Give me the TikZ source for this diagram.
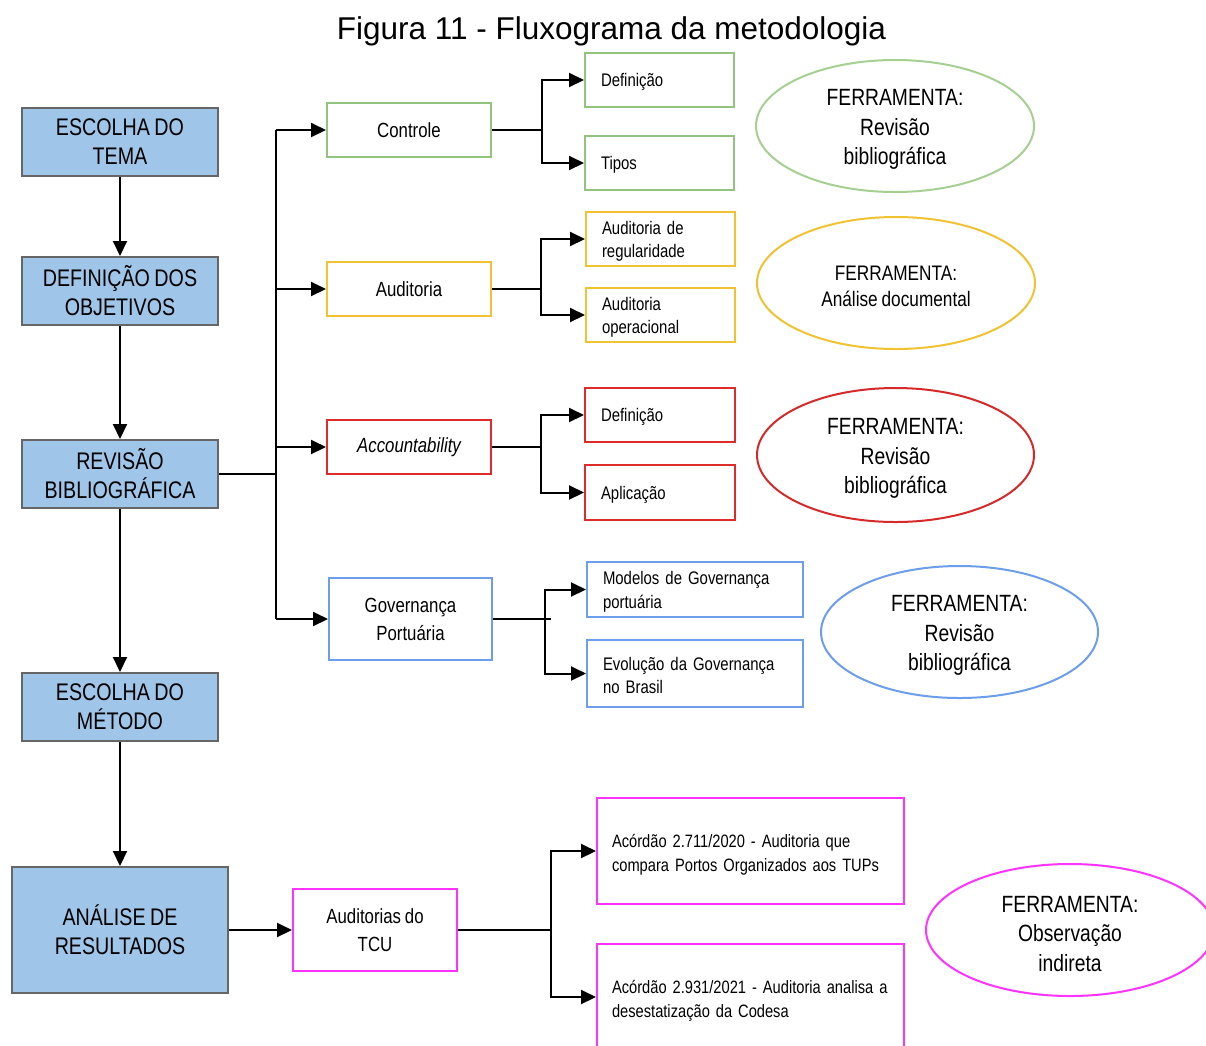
\documentclass[tikz,border=0pt]{standalone}
\usepackage{fontspec}
\setmainfont{Liberation Sans}
\newfontfamily\narrowfont[FakeStretch=0.82,WordSpace=0.82]{Liberation Sans}
\usetikzlibrary{arrows.meta,shapes.geometric}
\definecolor{mainfill}{HTML}{9FC5E8}
\definecolor{mainborder}{HTML}{666666}
\definecolor{cgreen}{HTML}{93C47D}
\definecolor{cgreenl}{HTML}{A6CF92}
\definecolor{cyellow}{HTML}{F1C232}
\definecolor{cred}{HTML}{E02B2B}
\definecolor{credd}{HTML}{D62A2A}
\definecolor{cblue}{HTML}{6D9EEB}
\definecolor{cpink}{HTML}{FF33FF}
\begin{document}
\begin{tikzpicture}[x=1pt,y=-1pt,
  mainbox/.style={draw=mainborder, line width=2pt, fill=mainfill, inner sep=0pt,
    minimum width=196, minimum height=68, align=center,
    font=\narrowfont\fontsize{24}{29}\selectfont},
  lvltwo/.style={draw, line width=2pt, fill=white, inner sep=0pt,
    minimum width=164, minimum height=54, align=center,
    font=\narrowfont\fontsize{20.5}{28}\selectfont},
  lvlthree/.style={draw, line width=2pt, fill=white, inner xsep=16pt, inner ysep=0pt,
    minimum height=54, align=left,
    font=\narrowfont\fontsize{18.2}{23.5}\selectfont},
  pinkbox/.style={lvlthree, draw=cpink, inner xsep=15pt, text width=277, minimum height=106,
    font=\narrowfont\fontsize{17.9}{23.5}\selectfont},
  tool/.style={ellipse, draw, line width=2pt, inner sep=0pt,
    minimum width=278, minimum height=132, align=center,
    font=\narrowfont\fontsize{23.5}{29.5}\selectfont},
  arr/.style={line width=2pt, -{Triangle[length=15pt,width=14pt]}},
  ln/.style={line width=2pt},
]
\useasboundingbox (0,0) rectangle (1206,1045);
\fill[white] (0,0) rectangle (1206,1045);
\clip (0,0) rectangle (1206,1045);

% caption
\node[font=\fontsize{31.5}{36}\selectfont, inner sep=0pt] (cap) at (611.5,31.5) {Figura 11 - Fluxograma da metodologia};

% main column
\node[mainbox] (b1) at (120,141.5) {ESCOLHA DO\\TEMA};
\node[mainbox] (b2) at (120,291) {DEFINIÇÃO DOS\\OBJETIVOS};
\node[mainbox] (b3) at (120,474) {REVISÃO\\BIBLIOGRÁFICA};
\node[mainbox] (b4) at (120,707) {ESCOLHA DO\\MÉTODO};
\node[mainbox, minimum width=216, minimum height=126] (b5) at (120,930) {ANÁLISE DE\\RESULTADOS};

\draw[arr] (b1) -- (b2);
\draw[arr] (b2) -- (b3);
\draw[arr] (b3) -- (b4);
\draw[arr] (b4) -- (b5);

% second level
\node[lvltwo, draw=cgreen] (ctrl) at (409,130) {Controle};
\node[lvltwo, draw=cyellow] (aud) at (409,289) {Auditoria};
\node[lvltwo, draw=cred] (acc) at (409,447) {\itshape Accountability};
\node[lvltwo, draw=cblue, minimum width=163, minimum height=82] (gov) at (410.5,619) {Governança\\Portuária};
\node[lvltwo, draw=cpink, minimum height=82] (tcu) at (375,930) {Auditorias do\\TCU};

% trunk from revisão
\coordinate (trunk) at (276,474);
\draw[ln] (b3.east) -- (trunk);
\draw[ln] (ctrl.west -| trunk) -- (gov.west -| trunk);
\draw[arr] (ctrl.west -| trunk) -- (ctrl.west);
\draw[arr] (aud.west -| trunk) -- (aud.west);
\draw[arr] (acc.west -| trunk) -- (acc.west);
\draw[arr] (gov.west -| trunk) -- (gov.west);

\draw[arr] (b5.east) -- (tcu.west);

% third level
\node[lvlthree, draw=cgreen, text width=117] (def1) at (659.5,80) {\rule{0pt}{17.5pt}Definição};
\node[lvlthree, draw=cgreen, text width=117] (tipos) at (659.5,163) {\rule{0pt}{17.5pt}Tipos};
\node[lvlthree, draw=cyellow, text width=117] (reg) at (660.5,239) {\rule{0pt}{17.5pt}Auditoria de\\regularidade};
\node[lvlthree, draw=cyellow, text width=117] (oper) at (660.5,315) {\rule{0pt}{17.5pt}Auditoria\\operacional};
\node[lvlthree, draw=cred, text width=118] (def2) at (660,415) {\rule{0pt}{17.5pt}Definição};
\node[lvlthree, draw=cred, text width=118, minimum height=55] (apl) at (660,492.5) {\rule{0pt}{17.5pt}Aplicação};
\node[lvlthree, draw=cblue, text width=184, minimum height=55] (mod) at (695,589.5) {\rule{0pt}{17.5pt}Modelos de Governança\\portuária};
\node[lvlthree, draw=cblue, text width=184, minimum height=67] (evo) at (695,673.5) {\rule{0pt}{17.5pt}Evolução da Governança\\no Brasil};
\node[pinkbox] (p1) at (750.5,851) {\rule{0pt}{20.5pt}\mbox{Acórdão 2.711/2020 - Auditoria que}\\\mbox{compara Portos Organizados aos TUPs}};
\node[pinkbox] (p2) at (750.5,997) {\rule{0pt}{20.5pt}\mbox{Acórdão 2.931/2021 - Auditoria analisa a}\\\mbox{desestatização da Codesa}};

% splits
\coordinate (s1) at (542,130);
\draw[ln] (ctrl.east) -- (s1);
\draw[arr] (s1) |- (def1.west);
\draw[arr] (s1) |- (tipos.west);

\coordinate (s2) at (541,289);
\draw[ln] (aud.east) -- (s2);
\draw[arr] (s2) |- (reg.west);
\draw[arr] (s2) |- (oper.west);

\coordinate (s3) at (541,447);
\draw[ln] (acc.east) -- (s3);
\draw[arr] (s3) |- (def2.west);
\draw[arr] (s3) |- (apl.west);

\coordinate (s4) at (545,619);
\coordinate (s4e) at (551,619);
\draw[ln] (gov.east) -- (s4e);
\draw[arr] (s4) |- (mod.west);
\draw[arr] (s4) |- (evo.west);

\coordinate (s5) at (551,930);
\draw[ln] (tcu.east) -- (s5);
\draw[arr] (s5) |- (p1.west);
\draw[arr] (s5) |- (p2.west);

% tool ellipses
\node[tool, draw=cgreenl] (e1) at (895,126) {\rule{0pt}{23.8pt}FERRAMENTA:\\Revisão\\bibliográfica};
\node[tool, draw=cyellow, font=\narrowfont\fontsize{21}{26}\selectfont] (e2) at (896,283) {\rule{0pt}{22pt}FERRAMENTA:\\Análise documental};
\node[tool, draw=credd, minimum width=277, minimum height=134] (e3) at (895.5,455) {\rule{0pt}{23.8pt}FERRAMENTA:\\Revisão\\bibliográfica};
\node[tool, draw=cblue, minimum width=277] (e4) at (959.5,632) {\rule{0pt}{23.8pt}FERRAMENTA:\\Revisão\\bibliográfica};
\node[tool, draw=cpink, minimum width=288] (e5) at (1070,930) {\rule{0pt}{23.8pt}FERRAMENTA:\\Observação\\indireta};
\end{tikzpicture}
\end{document}
